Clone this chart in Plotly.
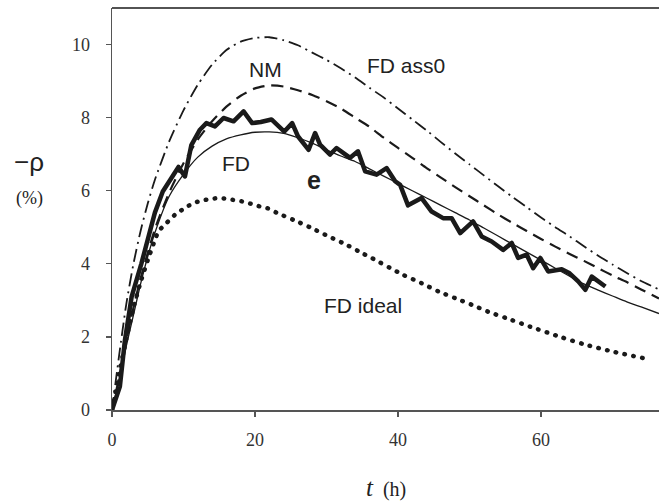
import plotly.graph_objects as go

# ---- data ----
# FD ass0 (dash-dot)
ass0_x = [0, 1, 2, 3, 4, 5, 6, 8, 10, 12, 14, 16, 18, 20, 22, 24, 26, 28, 30, 32, 34, 36, 38, 40,
          42, 44, 46, 48, 50, 52, 54, 56, 58, 60, 62, 64, 66, 68, 70, 72, 74, 76.5]
ass0_y = [0, 1.5, 2.9, 4.0, 4.9, 5.65, 6.3, 7.35, 8.2, 8.9, 9.45, 9.85, 10.08, 10.18, 10.2, 10.12,
          9.98, 9.78, 9.58, 9.35, 9.1, 8.82, 8.55, 8.25, 7.95, 7.65, 7.33, 7.02, 6.72, 6.42, 6.12,
          5.83, 5.55, 5.27, 5.0, 4.75, 4.48, 4.22, 3.98, 3.75, 3.53, 3.3]

# NM (dashed)
nm_x = [0, 1, 2, 3, 4, 6, 8, 10, 12, 14, 16, 18, 20, 22, 24, 26, 28, 30, 32, 34, 36, 38, 40,
        42, 44, 46, 48, 50, 52, 54, 56, 58, 60, 62, 64, 66, 68, 70, 72, 74, 76.5]
nm_y = [0, 0.9, 1.9, 2.8, 3.6, 4.95, 5.95, 6.75, 7.4, 7.9, 8.3, 8.6, 8.8, 8.88, 8.85, 8.75, 8.62,
        8.45, 8.25, 8.0, 7.75, 7.45, 7.17, 6.9, 6.62, 6.36, 6.1, 5.85, 5.6, 5.35, 5.12, 4.9, 4.68,
        4.47, 4.27, 4.08, 3.88, 3.68, 3.5, 3.3, 3.05]

# FD (thin solid)
fd_x = [0, 1, 2, 3, 4, 5, 6, 8, 10, 12, 14, 16, 18, 20, 22, 24, 26, 28, 30, 32, 34, 36, 38, 40,
        42, 44, 46, 48, 50, 52, 54, 56, 58, 60, 62, 64, 66, 68, 70, 72, 74, 76.5]
fd_y = [0, 0.8, 1.75, 2.6, 3.45, 4.2, 4.85, 5.85, 6.45, 6.92, 7.22, 7.42, 7.53, 7.6, 7.61, 7.57,
        7.45, 7.3, 7.12, 6.95, 6.8, 6.6, 6.4, 6.2, 6.0, 5.8, 5.6, 5.4, 5.2, 4.98, 4.76, 4.54,
        4.32, 4.1, 3.88, 3.66, 3.45, 3.28, 3.12, 2.96, 2.82, 2.64]

# FD ideal (dotted)
ideal_x = [0, 1, 2, 3, 4, 5, 6, 6.5, 7.6, 8.8, 10.2, 11.4, 12.5, 13.7, 14.9, 16, 17.2, 18.4, 19.8,
           21, 22.1, 23, 25.4, 27.9, 30.3, 32.8, 35.1, 36.3, 40.7, 43.3, 45.7, 48, 50.3, 52.6,
           55.2, 58.5, 62.7, 66, 70, 74.3]
ideal_y = [0, 1.0, 1.95, 2.8, 3.5, 4.1, 4.65, 4.89, 5.11, 5.34, 5.53, 5.66, 5.73, 5.77, 5.8, 5.78,
           5.74, 5.7, 5.62, 5.55, 5.5, 5.4, 5.2, 4.98, 4.75, 4.52, 4.28, 4.16, 3.7, 3.47, 3.24,
           3.06, 2.88, 2.69, 2.51, 2.28, 2.0, 1.8, 1.6, 1.42]

# e (measured, thick)
e_x = [0, 1.1, 1.8, 2.75, 4.1, 6.0, 7.1, 9.3, 10.2, 11.1, 12.3, 13.2, 14.4, 15.6, 17.0, 18.4,
       19.6, 20.8, 22.3, 24.1, 25.2, 26.0, 27.5, 28.4, 29.1, 30.5, 31.4, 33.3, 34.4, 35.4, 37.0,
       38.4, 39.6, 40.3, 41.4, 43.3, 44.7, 46.3, 47.5, 48.7, 50.5, 51.7, 53.1, 54.7, 55.9, 56.8,
       58.0, 58.9, 59.9, 61.0, 62.9, 64.0, 65.2, 66.2, 67.1, 69.0]
e_y = [0, 0.64, 1.9, 3.1, 4.0, 5.4, 5.98, 6.65, 6.39, 7.25, 7.67, 7.85, 7.76, 7.99, 7.9, 8.17,
       7.85, 7.88, 7.95, 7.62, 7.85, 7.49, 7.12, 7.58, 7.26, 6.99, 7.17, 6.9, 7.08, 6.53, 6.44,
       6.62, 6.26, 6.16, 5.6, 5.8, 5.43, 5.25, 5.25, 4.84, 5.16, 4.75, 4.61, 4.38, 4.57, 4.16,
       4.25, 3.88, 4.16, 3.79, 3.85, 3.74, 3.52, 3.29, 3.65, 3.38]

x_ticks = [0, 20, 40, 60]
y_ticks = [0, 2, 4, 6, 8, 10]

INK = "#1a1a1a"
AX = "#555555"

fig = go.Figure()
fig.add_trace(go.Scatter(x=ass0_x, y=ass0_y, mode="lines", hoverinfo="skip", line=dict(color=INK, width=1.8, dash="13px,5px,2px,5px", shape="spline", smoothing=0.6)))
fig.add_trace(go.Scatter(x=nm_x, y=nm_y, mode="lines", hoverinfo="skip", line=dict(color=INK, width=2.2, dash="12px,7px", shape="spline", smoothing=0.6)))
fig.add_trace(go.Scatter(x=fd_x, y=fd_y, mode="lines", hoverinfo="skip", line=dict(color=INK, width=1.3, shape="spline", smoothing=0.6)))
fig.add_trace(go.Scatter(x=ideal_x, y=ideal_y, mode="lines", hoverinfo="skip", line=dict(color=INK, width=4.5, dash="3px,6px", shape="spline", smoothing=0.6)))
fig.add_trace(go.Scatter(x=e_x, y=e_y, mode="lines", hoverinfo="skip", line=dict(color=INK, width=4.5)))

lab = dict(family="Liberation Sans, Arial, sans-serif", size=21, color="#222222")
fig.add_annotation(x=21.4, y=9.32, text="NM", showarrow=False, font=lab)
fig.add_annotation(x=41.1, y=9.42, text="FD ass0", showarrow=False, font=lab)
fig.add_annotation(x=17.3, y=6.74, text="FD", showarrow=False, font=lab)
fig.add_annotation(x=28.3, y=6.3, text="<b>e</b>", showarrow=False,
                   font=dict(family="Liberation Sans, Arial, sans-serif", size=25, color="#222222"))
fig.add_annotation(x=35.1, y=2.85, text="FD ideal", showarrow=False, font=lab)

# axis titles
fig.add_annotation(xref="paper", yref="paper", x=-0.152, y=0.617, xanchor="center", yanchor="middle",
                   text="\u2212\u03c1", showarrow=False,
                   font=dict(family="Liberation Sans, Arial, sans-serif", size=26, color="#222222"))
fig.add_annotation(xref="paper", yref="paper", x=-0.150, y=0.525, xanchor="center", yanchor="middle",
                   text="(%)", showarrow=False,
                   font=dict(family="Liberation Serif, Times New Roman, serif", size=18, color="#222222"))
fig.add_annotation(xref="paper", yref="paper", x=0.5, y=-0.194, xanchor="center", yanchor="middle",
                   text="<i><span style='font-size:25px'>t</span></i>  (h)", showarrow=False,
                   font=dict(family="Liberation Serif, Times New Roman, serif", size=20, color="#222222"))

# top border line
fig.add_shape(type="line", xref="paper", yref="paper", x0=0, x1=1, y0=1, y1=1,
              line=dict(color=INK, width=1.6))

tickfont = dict(family="Liberation Serif, Times New Roman, serif", size=18, color="#333333")
fig.update_xaxes(range=[0, 76.5], tickvals=x_ticks, ticktext=[str(v) for v in x_ticks],
                 showgrid=False, zeroline=False, showline=True, linecolor=AX, linewidth=1.5,
                 ticks="outside", ticklen=5, tickcolor=AX, tickwidth=1.2, tickfont=tickfont,
                 ticklabelstandoff=8)
fig.update_yaxes(range=[0, 11], tickvals=y_ticks, ticktext=[str(v) for v in y_ticks],
                 showgrid=False, zeroline=False, showline=True, linecolor=AX, linewidth=1.5,
                 ticks="outside", ticklen=5, tickcolor=AX, tickwidth=1.2, tickfont=tickfont,
                 ticklabelstandoff=12)
fig.update_layout(width=659, height=501, margin=dict(l=112, r=0, t=8, b=91),
                  paper_bgcolor="white", plot_bgcolor="white", showlegend=False,
                  hovermode=False)

post = """
(function(){
  document.documentElement.style.margin = '0';
  document.documentElement.style.overflow = 'hidden';
  document.body.style.margin = '0';
  document.body.style.padding = '0';
  document.body.style.overflow = 'hidden';
  var gd = document.getElementById('{plot_id}');
  function fix(){
    var tr = gd.querySelectorAll('.scatterlayer .trace');
    tr.forEach(function(t, i){
      var p = t.querySelector('path.js-line');
      if(!p) return;
      p.style.strokeLinejoin = 'round';
      if (i === 3) { p.style.strokeLinecap = 'round'; p.style.strokeDasharray = '0.5px,8.5px'; }
    });
  }
  fix();
  gd.on && gd.on('plotly_afterplot', fix);
})();
"""
fig.write_html("out.html", post_script=post, config={"displayModeBar": False, "staticPlot": True})
